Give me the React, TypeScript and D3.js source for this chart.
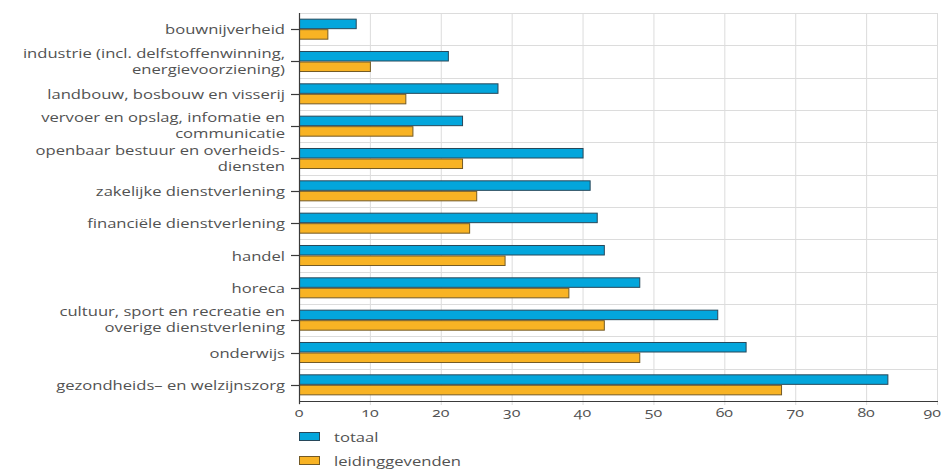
import React from "react";
import * as d3 from "d3";

// Sectors (top to bottom); multi-line labels are split with "\n"
const categories: string[] = [
  "bouwnijverheid",
  "industrie (incl. delfstoffenwinning,\nenergievoorziening)",
  "landbouw, bosbouw en visserij",
  "vervoer en opslag, infomatie en\ncommunicatie",
  "openbaar bestuur en overheids-\ndiensten",
  "zakelijke dienstverlening",
  "financiële dienstverlening",
  "handel",
  "horeca",
  "cultuur, sport en recreatie en\noverige dienstverlening",
  "onderwijs",
  "gezondheids– en welzijnszorg",
];

const totaal: number[] = [8, 21, 28, 23, 40, 41, 42, 43, 48, 59, 63, 83];
const leidinggevenden: number[] = [4, 10, 15, 16, 23, 25, 24, 29, 38, 43, 48, 68];

const seriesNames: string[] = ["totaal", "leidinggevenden"];
const xTicks: number[] = [0, 10, 20, 30, 40, 50, 60, 70, 80, 90];

const W = 942;
const H = 469;
const M = { left: 299, right: 5, top: 13, bottom: 68 };

const FILL: Record<string, string> = { totaal: "#03a6dc", leidinggevenden: "#f8b324" };
const EDGE: Record<string, string> = { totaal: "#27485a", leidinggevenden: "#735a26" };

const TEXT = "#525252";
const FONT = "'Open Sans', 'DejaVu Sans', sans-serif";
const SX = 1.33; // horizontal stretch of the lettering

function Label(props: { x: number; y: number; anchor: string; size: number; children: string }) {
  const { x, y, anchor, size, children } = props;
  return (
    <g transform={`translate(${x},${y}) scale(${SX},1)`}>
      <text
        x={0}
        y={0}
        textAnchor={anchor}
        dominantBaseline="central"
        fontFamily={FONT}
        fontSize={size}
        fill={TEXT}
        style={{ fontFeatureSettings: "'onum' 1" }}
      >
        {children}
      </text>
    </g>
  );
}

export default function App() {
  const x = d3.scaleLinear().domain([0, 90]).range([M.left, W - M.right]);
  const y = d3
    .scaleBand<string>()
    .domain(categories)
    .range([M.top, H - M.bottom])
    .paddingInner(0.35)
    .paddingOuter(0.175);
  const sub = d3.scaleBand<string>().domain(seriesNames).range([0, y.bandwidth()]);

  const step = y.step();
  const plotTop = M.top;
  const plotBottom = H - M.bottom;
  const boundaries = d3.range(categories.length + 1).map((i) => plotTop + i * step);

  const values: Record<string, number[]> = { totaal, leidinggevenden };
  const lastTick = xTicks[xTicks.length - 1];

  return (
    <svg
      width={W}
      height={H}
      style={{ position: "absolute", left: 0, top: 0, background: "#fff" }}
    >
      {/* grid */}
      <g stroke="#dcdcdc" strokeWidth={1}>
        {xTicks.map((t) => (
          <line key={`gx${t}`} x1={x(t) + 0.5} x2={x(t) + 0.5} y1={plotTop} y2={plotBottom + 4} />
        ))}
        {boundaries.map((b, i) => (
          <line key={`gy${i}`} x1={M.left} x2={x(90) + 1} y1={Math.round(b) + 0.5} y2={Math.round(b) + 0.5} />
        ))}
      </g>

      {/* bars */}
      {categories.map((c, i) => (
        <g key={c} transform={`translate(0,${y(c)})`}>
          {seriesNames.map((s) => (
            <rect
              key={s}
              x={x(0) + 0.5}
              y={(sub(s) as number) + 0.5}
              width={x(values[s][i]) - x(0)}
              height={sub.bandwidth() - 1}
              fill={FILL[s]}
              stroke={EDGE[s]}
              strokeWidth={1}
            />
          ))}
        </g>
      ))}

      {/* axes */}
      <g stroke="#3a3a3a" strokeWidth={1.2}>
        <line x1={M.left + 0.5} x2={M.left + 0.5} y1={plotTop} y2={plotBottom + 3} />
        <line x1={M.left} x2={x(90) + 1} y1={plotBottom + 0.5} y2={plotBottom + 0.5} />
        {categories.map((c) => {
          const cy = Math.round((y(c) as number) + y.bandwidth() / 2) + 0.5;
          return <line key={`t${c}`} x1={M.left - 8} x2={M.left} y1={cy} y2={cy} />;
        })}
      </g>

      {/* category labels */}
      {categories.map((c) => {
        const cy = (y(c) as number) + y.bandwidth() / 2;
        const lines = c.split("\n");
        const lh = 16;
        const y0 = cy - ((lines.length - 1) * lh) / 2 - (lines.length > 1 ? 1 : 0);
        return (
          <g key={`l${c}`}>
            {lines.map((ln, j) => (
              <Label key={j} x={285} y={y0 + j * lh} anchor="end" size={12.5}>
                {ln}
              </Label>
            ))}
          </g>
        );
      })}

      {/* x tick labels; the last one is kept inside the right edge */}
      {xTicks.map((t) =>
        t === lastTick ? (
          <Label key={`xl${t}`} x={W - 1} y={412} anchor="end" size={12}>
            {String(t)}
          </Label>
        ) : (
          <Label key={`xl${t}`} x={x(t)} y={412} anchor="middle" size={12}>
            {String(t)}
          </Label>
        )
      )}

      {/* legend */}
      {seriesNames.map((s, i) => {
        const ly = 437 + i * 24;
        return (
          <g key={`lg${s}`}>
            <rect x={299.5} y={ly - 4.5} width={20} height={8} fill={FILL[s]} stroke={EDGE[s]} strokeWidth={1} />
            <Label x={334} y={ly} anchor="start" size={12.5}>
              {s}
            </Label>
          </g>
        );
      })}
    </svg>
  );
}
